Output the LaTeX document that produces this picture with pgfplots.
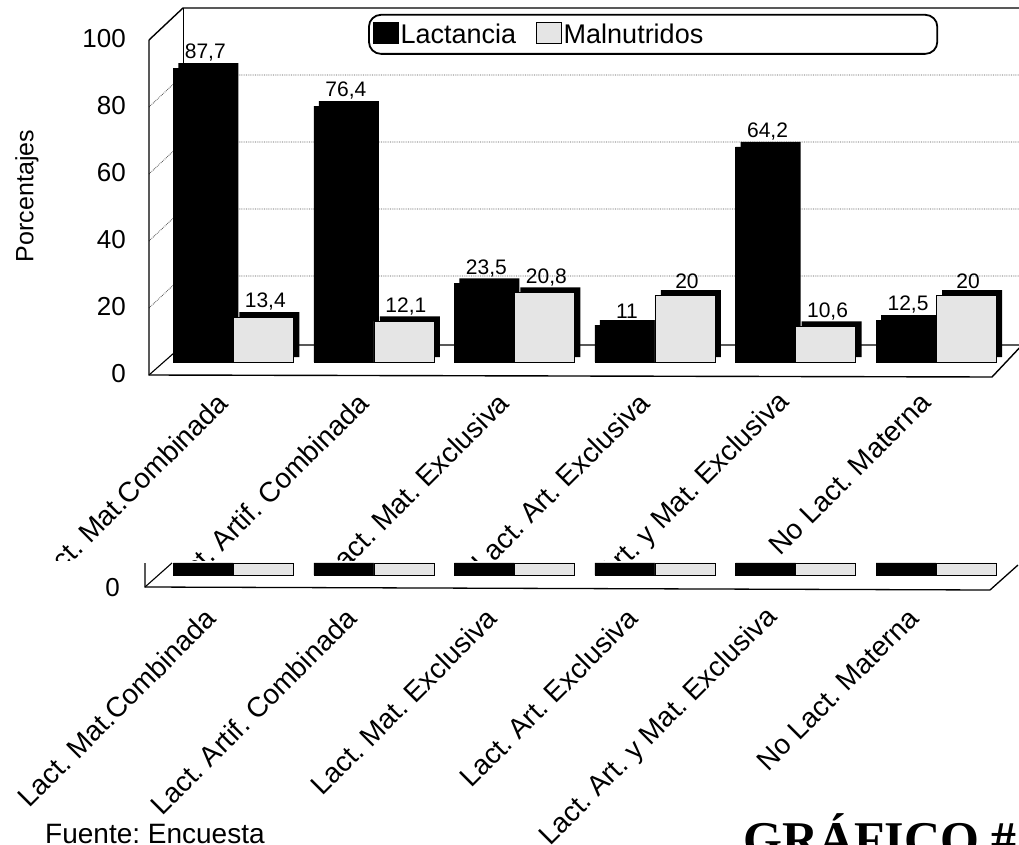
\documentclass[border=0pt]{standalone}
\usepackage{fontspec}
\setmainfont{Liberation Sans}
\newfontfamily\serifb{Liberation Serif}
\usepackage{pgfplots}
\pgfplotsset{compat=1.18}
\usepackage{pgfplotstable}
\frenchspacing

\pgfplotstableread{
x lact maln
0 87.7 13.4
1 76.4 12.1
2 23.5 20.8
3 11 20
4 64.2 10.6
5 12.5 20
}\datamain

\pgfplotstableread{
x lact maln
0 3.6 3.6
1 3.6 3.6
2 3.6 3.6
3 3.6 3.6
4 3.6 3.6
5 3.6 3.6
}\datalow

\definecolor{lightbar}{gray}{0.9}

\begin{document}
\begin{tikzpicture}
\path[use as bounding box] (0pt,0pt) rectangle (1019pt,-845pt);

% upper walls and floor
\begin{scope}[x=1pt,y=-1pt]
\foreach \v in {20,40,60,80} {
  \pgfmathsetmacro\yf{375-3.35*\v}
  \pgfmathsetmacro\yb{343-3.35*\v}
  \draw[densely dotted, line width=0.8pt, gray!60!black] (149,\yf) -- (183,\yb) -- (1019,\yb);
}
\draw[line width=0.8pt] (183,8) -- (183,345);
\draw[line width=1.1pt] (149,375) -- (183,345) -- (1019,345);
\draw[line width=1.4pt] (149,40) -- (149,375) -- (992,377) -- (1024,343);
\draw[line width=1.4pt] (149,40) -- (183,8) -- (1019,8);
\end{scope}

\begin{axis}[
  at={(149pt,-375.4pt)}, anchor=south west,
  scale only axis, width=851pt, height=368.5pt,
  xmin=-0.6, xmax=5.455, ymin=-4, ymax=106,
  ybar, bar width=60pt,
  clip=false,
  axis line style={draw=none},
  major tick length=0pt,
  ytick={0,20,40,60,80,100},
  yticklabels={},
  xtick={0,...,5},
  xticklabels={Lact. Mat.Combinada, Lact. Artif. Combinada, Lact. Mat. Exclusiva, Lact. Art. Exclusiva, Lact. Art. y Mat. Exclusiva, No Lact. Materna},
  /pgf/number format/assume math mode=true,
  /pgf/number format/use comma,
  xticklabel style={xshift=-8pt, yshift=-20pt, rotate=45, anchor=east, font=\fontsize{28}{28}\selectfont},
  legend columns=2,
  legend style={at={(0.2574,0.981)}, anchor=north west, draw=black, line width=1.8pt,
     rounded corners=12pt, font=\fontsize{27}{27}\selectfont, inner xsep=4pt, inner ysep=7pt,
     /tikz/every even column/.append style={column sep=18pt}},
  legend image code/.code={\draw[#1, sharp corners, line width=0.6pt, draw=black] (0pt,-9pt) rectangle (25pt,12pt);},
  every node near coord/.append style={font=\fontsize{21}{21}\selectfont, yshift=3pt, xshift=2pt, black},
]
\addplot[fill=black, draw=none, bar shift=30pt, xshift=6pt, yshift=5pt, forget plot] table[x=x,y=maln]{\datamain};
\addplot[fill=black, draw=none, bar shift=-30pt, xshift=5pt, yshift=5pt, forget plot] table[x=x,y=lact]{\datamain};
\addplot[fill=black, draw=black, bar shift=-30pt, nodes near coords] table[x=x,y=lact]{\datamain};
\addplot[fill=lightbar, draw=black, line width=0.6pt, bar shift=30pt, nodes near coords] table[x=x,y=maln]{\datamain};
\legend{Lactancia, Malnutridos\hspace*{228pt}}
\pgfplotsinvokeforeach{0,20,40,60,80,100}{
  \node[anchor=east, inner sep=0pt, font=\fontsize{26}{26}\selectfont] at ([xshift=-23pt,yshift=-12pt]axis cs:-0.6,#1) {#1};
}
\end{axis}

% cover: the lower chart lies over the upper one
\fill[white] (0pt,-561pt) rectangle (1019pt,-845pt);

\begin{scope}[x=1pt,y=-1pt]
\draw[line width=1.3pt] (145,563) -- (145,587) -- (990,590) -- (1018,565);
\draw[line width=1.1pt] (145,587) -- (172,563);
\end{scope}

\begin{axis}[
  at={(149pt,-587pt)}, anchor=south west,
  scale only axis, width=851pt, height=38.8pt,
  xmin=-0.6, xmax=5.455, ymin=-3.58, ymax=8,
  ybar, bar width=60pt,
  clip=false,
  axis line style={draw=none},
  major tick length=0pt,
  ytick={0},
  yticklabels={},
  xtick={0,...,5},
  xticklabels={Lact. Mat.Combinada, Lact. Artif. Combinada, Lact. Mat. Exclusiva, Lact. Art. Exclusiva, Lact. Art. y Mat. Exclusiva, No Lact. Materna},
  xticklabel style={xshift=-20pt, yshift=-24pt, rotate=45, anchor=east, font=\fontsize{28}{28}\selectfont},
]
\addplot[fill=black, draw=black, bar shift=-30pt] table[x=x,y=lact]{\datalow};
\addplot[fill=lightbar, draw=black, line width=0.6pt, bar shift=30pt] table[x=x,y=maln]{\datalow};
\node[anchor=east, inner sep=0pt, font=\fontsize{26}{26}\selectfont] at ([xshift=-29pt,yshift=-13pt]axis cs:-0.6,0) {0};
\end{axis}

\node[rotate=90, font=\fontsize{25}{25}\selectfont] at (27pt,-196pt) {Porcentajes};
\node[anchor=base west, inner sep=0pt, font=\fontsize{28}{28}\selectfont] at (45pt,-843pt) {Fuente: Encuesta};
\node[anchor=base west, inner sep=0pt, font=\serifb\bfseries\fontsize{50}{50}\selectfont] at (743pt,-856pt) {GRÁFICO \#};
\end{tikzpicture}
\end{document}
